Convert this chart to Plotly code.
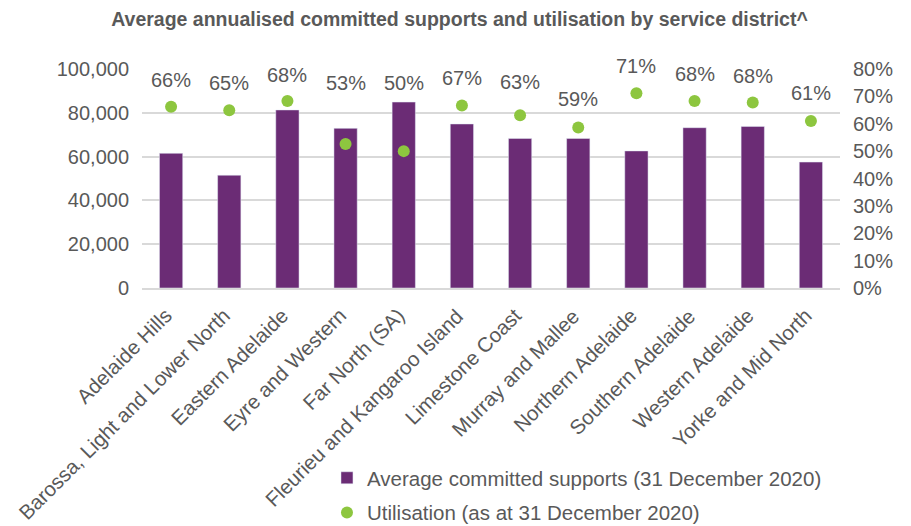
import plotly.graph_objects as go

districts = ["Adelaide Hills", "Barossa, Light and Lower North", "Eastern Adelaide",
             "Eyre and Western", "Far North (SA)", "Fleurieu and Kangaroo Island",
             "Limestone Coast", "Murray and Mallee", "Northern Adelaide",
             "Southern Adelaide", "Western Adelaide", "Yorke and Mid North"]
committed = [61500, 51500, 81300, 72900, 84900, 74900, 68300, 68300, 62600, 73200, 73800, 57500]
utilisation = [66.2, 64.9, 68.3, 52.6, 50.0, 66.7, 63.1, 58.6, 71.1, 68.3, 67.8, 61.0]
label_shift = [27, 27, 26, 61, 68, 27, 33, 29, 27, 27, 26, 28]

left_ticks = [0, 20000, 40000, 60000, 80000, 100000]
right_ticks = [0, 10, 20, 30, 40, 50, 60, 70, 80]
right_tick_text = [f"{v}%" for v in right_ticks]

PURPLE = "#6B2C75"
GREEN = "#8DC63F"
GREY = "#595959"
FONT = "Liberation Sans, Arial, sans-serif"

fig = go.Figure()
fig.add_trace(go.Bar(x=districts, y=committed, name="Average committed supports (31 December 2020)",
                     marker=dict(color=PURPLE), yaxis="y", legendgroup="a"))
fig.add_trace(go.Scatter(x=districts, y=utilisation, mode="markers",
                         name="Utilisation (as at 31 December 2020)",
                         marker=dict(color=GREEN, size=12), yaxis="y2", legendgroup="b"))

for d, u, s in zip(districts, utilisation, label_shift):
    fig.add_annotation(x=d, y=u, yref="y2", text=f"{u:.0f}%", showarrow=False,
                       yshift=s, font=dict(size=20, color=GREY, family=FONT))

# category labels (rotated), drawn as annotations for precise placement
for d in districts:
    fig.add_annotation(x=d, y=0, xref="x", yref="paper", text=d, showarrow=False,
                       textangle=-45, xanchor="right", yanchor="top",
                       xshift=8, yshift=-13, font=dict(size=20.5, color=GREY, family=FONT))

fig.update_layout(
    width=903, height=518,
    margin=dict(l=134, r=71, t=61, b=238, autoexpand=False),
    paper_bgcolor="white", plot_bgcolor="white",
    font=dict(family=FONT, color=GREY, size=18),
    title=dict(text="<b>Average annualised committed supports and utilisation by service district^</b>",
               x=0.5, xanchor="center", y=0.978, yanchor="middle",
               font=dict(size=19.5, color=GREY, family=FONT)),
    bargap=0.6,
    showlegend=True,
    legend=dict(x=0.265, y=-0.776, xanchor="left", yanchor="top",
                font=dict(size=20.5, color=GREY, family=FONT),
                itemwidth=30, tracegroupgap=5),
    xaxis=dict(range=[-0.5, len(districts) - 0.5], autorange=False,
               showticklabels=False, showgrid=False,
               showline=True, linecolor="#D9D9D9", linewidth=1.5, ticks="", automargin=False),
    yaxis=dict(range=[0, 100000], tickvals=left_ticks, tickformat=",",
               tickfont=dict(size=20, color=GREY), showgrid=True, gridcolor="#D9D9D9",
               gridwidth=1.5, zeroline=False, showline=False, ticks="", automargin=False,
               ticklabelstandoff=12),
    yaxis2=dict(range=[0, 80], tickvals=right_ticks, ticktext=right_tick_text, overlaying="y",
                side="right", tickfont=dict(size=20, color=GREY), showgrid=False,
                zeroline=False, showline=False, automargin=False, ticklabelstandoff=12),
)

fig.write_html("out.html")
